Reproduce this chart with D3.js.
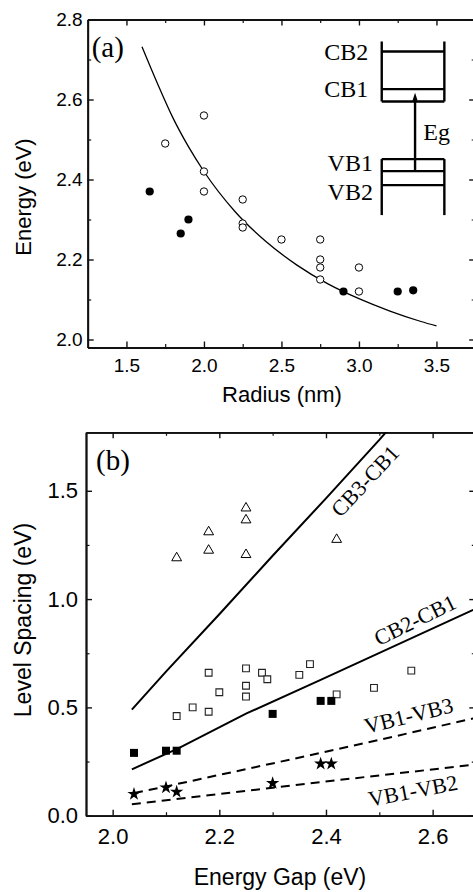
<!DOCTYPE html>
<html>
<head>
<meta charset="utf-8">
<script src="https://cdn.jsdelivr.net/npm/d3@7"></script>
<style>
  body { margin: 0; background: #fff; }
  svg { display: block; }
  .tick text { font-family: "Liberation Sans", Arial, sans-serif; fill: #000; }
  .axis path, .axis line { stroke: #111; }
  .serif { font-family: "Liberation Serif", "Times New Roman", serif; }
</style>
</head>
<body>
<svg id="fig" width="473" height="892"></svg>
<script>
// ---- panel (a): energy vs radius ----
const openRadius = [1.75, 2.0, 2.0, 2.0, 2.25, 2.25, 2.25, 2.5, 2.75, 2.75, 2.75, 2.75, 3.0, 3.0];
const openEnergy = [2.49, 2.56, 2.42, 2.37, 2.35, 2.29, 2.28, 2.25, 2.25, 2.20, 2.18, 2.15, 2.18, 2.12];
const filledRadius = [1.65, 1.85, 1.9, 2.9, 3.25, 3.35];
const filledEnergy = [2.37, 2.265, 2.30, 2.12, 2.12, 2.123];
const fitRadius = [1.6, 1.7, 1.8, 1.9, 2.0, 2.2, 2.4, 2.6, 2.8, 3.0, 3.2, 3.4, 3.5];
const fitEnergy = [2.732, 2.64, 2.554, 2.482, 2.42, 2.32, 2.245, 2.186, 2.139, 2.102, 2.071, 2.045, 2.034];

// inset level scheme, placed in panel (a) units
const insetLeft = 3.147, insetRight = 3.551, arrowR = 3.362;
const cbTop = 2.745, cbLevels = [2.72, 2.626], cbBottom = 2.595;
const vbTop = 2.451, vbLevels = [2.421, 2.386], vbBottom = 2.311;
const arrowTip = 2.617;
const insetLabels = [
  {t: "CB2", r: 3.06, e: 2.72, anchor: "end"},
  {t: "CB1", r: 3.06, e: 2.626, anchor: "end"},
  {t: "Eg",  r: 3.415, e: 2.52, anchor: "start"},
  {t: "VB1", r: 3.09, e: 2.441, anchor: "end"},
  {t: "VB2", r: 3.09, e: 2.37, anchor: "end"}
];

// ---- panel (b): level spacing vs energy gap ----
const triGap = [2.12, 2.18, 2.18, 2.25, 2.25, 2.25, 2.42];
const triSpacing = [1.19, 1.31, 1.225, 1.42, 1.365, 1.205, 1.275];
const sqGap = [2.12, 2.15, 2.18, 2.18, 2.20, 2.25, 2.25, 2.25, 2.28, 2.29, 2.35, 2.37, 2.42, 2.49, 2.56];
const sqSpacing = [0.46, 0.50, 0.66, 0.48, 0.57, 0.68, 0.60, 0.55, 0.66, 0.63, 0.65, 0.70, 0.56, 0.59, 0.67];
const fsqGap = [2.04, 2.10, 2.12, 2.30, 2.39, 2.41];
const fsqSpacing = [0.29, 0.30, 0.30, 0.47, 0.53, 0.53];
const starGap = [2.04, 2.10, 2.12, 2.30, 2.39, 2.41];
const starSpacing = [0.10, 0.13, 0.11, 0.15, 0.24, 0.24];

const cb3Line = [[2.036, 0.49], [2.1, 0.665], [2.2, 0.93], [2.3, 1.2], [2.4, 1.465], [2.5, 1.735], [2.53, 1.82]];
const cb2Line = [[2.036, 0.214], [2.123, 0.311], [2.251, 0.472], [2.389, 0.626], [2.676, 0.95]];
const vb3Line = [[2.04, 0.105], [2.1, 0.135], [2.314, 0.249], [2.5, 0.35], [2.676, 0.449]];
const vb2Line = [[2.036, 0.053], [2.2, 0.1], [2.364, 0.148], [2.676, 0.235]];
const lineLabels = [
  {t: "CB3-CB1", g: 2.473, s: 1.545, angle: -47},
  {t: "CB2-CB1", g: 2.567, s: 0.903, angle: -26},
  {t: "VB1-VB3", g: 2.555, s: 0.462, angle: -14},
  {t: "VB1-VB2", g: 2.563, s: 0.115, angle: -11}
];

const svg = d3.select("#fig");

function frame(g, x, y, opt) {
  const w = x.range()[1] - x.range()[0], h = y.range()[0] - y.range()[1];
  const fmt = d3.format(".1f");
  const add = (axis, tr) => g.append("g").attr("class", "axis").attr("transform", tr).call(axis)
    .call(s => s.select(".domain").attr("stroke-width", 1.8));
  // minor ticks first
  [[d3.axisBottom(x), `translate(0,${h})`], [d3.axisTop(x), "translate(0,0)"]].forEach(([a, tr]) =>
    add(a.tickValues(opt.xMinor).tickSize(-3.5).tickSizeOuter(0).tickFormat(""), tr).selectAll(".tick line").attr("stroke-width", 1.2));
  [[d3.axisLeft(y), "translate(0,0)"], [d3.axisRight(y), `translate(${w},0)`]].forEach(([a, tr]) =>
    add(a.tickValues(opt.yMinor).tickSize(-3.5).tickSizeOuter(0).tickFormat(""), tr).selectAll(".tick line").attr("stroke-width", 1.2));
  add(d3.axisBottom(x).tickValues(opt.xMajor).tickSize(-6).tickSizeOuter(0).tickPadding(opt.xPad).tickFormat(fmt), `translate(0,${h})`)
    .call(s => s.selectAll("text").attr("font-size", opt.fs));
  add(d3.axisTop(x).tickValues(opt.xMajor).tickSize(-6).tickSizeOuter(0).tickFormat(""), "translate(0,0)");
  add(d3.axisLeft(y).tickValues(opt.yMajor).tickSize(-6).tickSizeOuter(0).tickPadding(opt.yPad).tickFormat(fmt), "translate(0,0)")
    .call(s => s.selectAll("text").attr("font-size", opt.fs));
  add(d3.axisRight(y).tickValues(opt.yMajor).tickSize(-6).tickSizeOuter(0).tickFormat(""), `translate(${w},0)`);
  g.selectAll(".tick line").attr("stroke-width", function() { return d3.select(this).attr("stroke-width") || 1.4; });
}

// ================= panel (a) =================
const xa = d3.scaleLinear().domain([1.25, 3.75]).range([0, 387.5]);
const ya = d3.scaleLinear().domain([1.98, 2.8]).range([328, 0]);
const ga = svg.append("g").attr("transform", "translate(87.7,19.5)");
ga.append("clipPath").attr("id", "clipA").append("rect").attr("width", 387.5).attr("height", 328);

frame(ga, xa, ya, {xMajor: [1.5, 2.0, 2.5, 3.0, 3.5], xMinor: [1.75, 2.25, 2.75, 3.25],
  yMajor: [2.0, 2.2, 2.4, 2.6, 2.8], yMinor: [2.1, 2.3, 2.5, 2.7], fs: 19, xPad: 11, yPad: 5});

const pa = ga.append("g").attr("clip-path", "url(#clipA)");
pa.append("path").datum(d3.zip(fitRadius, fitEnergy))
  .attr("fill", "none").attr("stroke", "#000").attr("stroke-width", 1.3)
  .attr("d", d3.line().x(d => xa(d[0])).y(d => ya(d[1])).curve(d3.curveMonotoneX));

pa.selectAll("circle.open").data(d3.zip(openRadius, openEnergy)).enter().append("circle")
  .attr("class", "open").attr("cx", d => xa(d[0])).attr("cy", d => ya(d[1])).attr("r", 3.7)
  .attr("fill", "#fff").attr("stroke", "#000").attr("stroke-width", 1);
pa.selectAll("circle.filled").data(d3.zip(filledRadius, filledEnergy)).enter().append("circle")
  .attr("class", "filled").attr("cx", d => xa(d[0])).attr("cy", d => ya(d[1])).attr("r", 4.1)
  .attr("fill", "#000");

// inset
const inset = ga.append("g").attr("stroke", "#000").attr("stroke-width", 2.4).attr("fill", "none");
[insetLeft, insetRight].forEach(r => {
  inset.append("line").attr("x1", xa(r)).attr("x2", xa(r)).attr("y1", ya(cbTop)).attr("y2", ya(cbBottom));
  inset.append("line").attr("x1", xa(r)).attr("x2", xa(r)).attr("y1", ya(vbTop)).attr("y2", ya(vbBottom));
});
cbLevels.concat([cbBottom], [vbTop], vbLevels).forEach(e =>
  inset.append("line").attr("x1", xa(insetLeft)).attr("x2", xa(insetRight)).attr("y1", ya(e)).attr("y2", ya(e)));
inset.append("line").attr("x1", xa(arrowR)).attr("x2", xa(arrowR))
  .attr("y1", ya(vbLevels[0])).attr("y2", ya(arrowTip) + 6);
ga.append("path").attr("fill", "#000")
  .attr("d", `M${xa(arrowR)},${ya(arrowTip)} l-2.6,8 l5.2,0 z`);
ga.selectAll("text.inset").data(insetLabels).enter().append("text")
  .attr("class", "inset serif").attr("x", d => xa(d.r)).attr("y", d => ya(d.e))
  .attr("text-anchor", d => d.anchor).attr("dominant-baseline", "central")
  .attr("font-size", 24).text(d => d.t);

ga.append("text").attr("class", "serif").attr("x", 4).attr("y", 37).attr("font-size", 29).text("(a)");

svg.append("text").attr("x", 282).attr("y", 402).attr("text-anchor", "middle")
  .attr("font-family", "Liberation Sans, Arial, sans-serif").attr("font-size", 22).text("Radius (nm)");
svg.append("text").attr("transform", "translate(31,197) rotate(-90)").attr("text-anchor", "middle")
  .attr("font-family", "Liberation Sans, Arial, sans-serif").attr("font-size", 22).text("Energy (eV)");

// ================= panel (b) =================
const xb = d3.scaleLinear().domain([1.95, 2.68]).range([0, 389.3]);
const yb = d3.scaleLinear().domain([0, 1.77]).range([383.4, 0]);
const gb = svg.append("g").attr("transform", "translate(86,432.3)");
gb.append("clipPath").attr("id", "clipB").append("rect").attr("width", 389.3).attr("height", 383.4);

frame(gb, xb, yb, {xMajor: [2.0, 2.2, 2.4, 2.6], xMinor: [2.1, 2.3, 2.5],
  yMajor: [0, 0.5, 1.0, 1.5], yMinor: [0.25, 0.75, 1.25], fs: 22, xPad: 13, yPad: 8});

const pb = gb.append("g").attr("clip-path", "url(#clipB)");
const ln = d3.line().x(d => xb(d[0])).y(d => yb(d[1]));
[cb3Line, cb2Line].forEach(l => pb.append("path").datum(l).attr("d", ln)
  .attr("fill", "none").attr("stroke", "#000").attr("stroke-width", 2));
[vb3Line, vb2Line].forEach(l => pb.append("path").datum(l).attr("d", ln)
  .attr("fill", "none").attr("stroke", "#000").attr("stroke-width", 2).attr("stroke-dasharray", "9,6"));

const sym = (type, size) => d3.symbol().type(type).size(size)();
pb.selectAll("path.tri").data(d3.zip(triGap, triSpacing)).enter().append("path")
  .attr("class", "tri").attr("transform", d => `translate(${xb(d[0])},${yb(d[1])})`)
  .attr("d", sym(d3.symbolTriangle, 42)).attr("fill", "#fff").attr("stroke", "#000").attr("stroke-width", 1);
pb.selectAll("path.sq").data(d3.zip(sqGap, sqSpacing)).enter().append("path")
  .attr("class", "sq").attr("transform", d => `translate(${xb(d[0])},${yb(d[1])})`)
  .attr("d", sym(d3.symbolSquare, 46)).attr("fill", "#fff").attr("stroke", "#222").attr("stroke-width", 1.1);
pb.selectAll("path.fsq").data(d3.zip(fsqGap, fsqSpacing)).enter().append("path")
  .attr("class", "fsq").attr("transform", d => `translate(${xb(d[0])},${yb(d[1])})`)
  .attr("d", sym(d3.symbolSquare, 64)).attr("fill", "#000");
pb.selectAll("path.star").data(d3.zip(starGap, starSpacing)).enter().append("path")
  .attr("class", "star").attr("transform", d => `translate(${xb(d[0])},${yb(d[1])})`)
  .attr("d", sym(d3.symbolStar, 55)).attr("fill", "#000");

gb.selectAll("text.lab").data(lineLabels).enter().append("text")
  .attr("class", "lab serif").attr("text-anchor", "middle").attr("dominant-baseline", "central")
  .attr("font-size", 22)
  .attr("transform", d => `translate(${xb(d.g)},${yb(d.s)}) rotate(${d.angle})`).text(d => d.t);

gb.append("text").attr("class", "serif").attr("x", 10).attr("y", 38).attr("font-size", 29).text("(b)");

svg.append("text").attr("x", 280).attr("y", 885).attr("text-anchor", "middle")
  .attr("font-family", "Liberation Sans, Arial, sans-serif").attr("font-size", 23).text("Energy Gap (eV)");
svg.append("text").attr("transform", "translate(31,620) rotate(-90)").attr("text-anchor", "middle")
  .attr("font-family", "Liberation Sans, Arial, sans-serif").attr("font-size", 23).text("Level Spacing (eV)");
</script>
</body>
</html>
